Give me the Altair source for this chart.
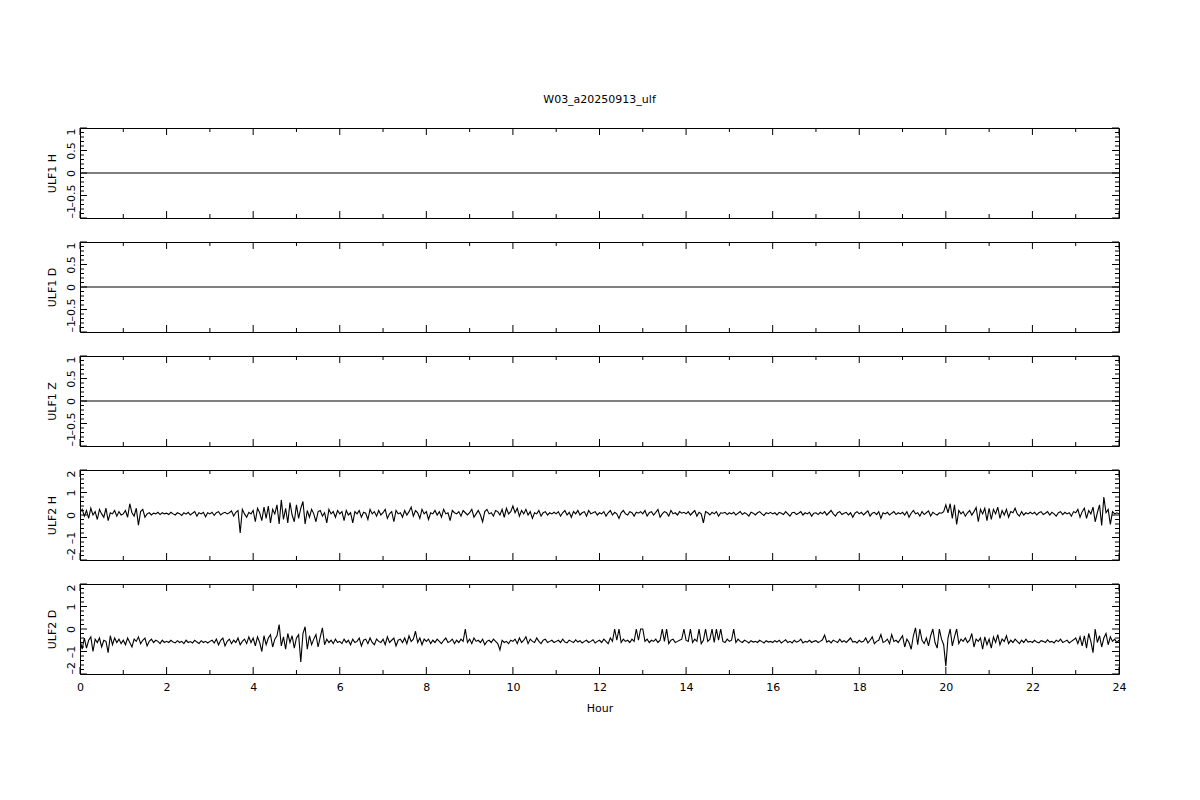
import altair as alt
import pandas as pd

TITLE = "W03_a20250913_ulf"
X_TITLE = "Hour"
PANEL_LABELS = ["ULF1 H", "ULF1 D", "ULF1 Z", "ULF2 H", "ULF2 D"]

# ULF1 channels: flat zero traces over the whole day
ulf1_hours = [0, 24]
ulf1_h = [0.0, 0.0]
ulf1_d = [0.0, 0.0]
ulf1_z = [0.0, 0.0]

# ULF2 H, 20 samples per hour, plus final sample
ulf2_h = [
    0.10, 0.25, -0.05, 0.20, -0.15, 0.30, 0.00, 0.15, -0.20, 0.25, 0.05, -0.10, 0.30, -0.25, 0.10, 0.05, 0.20, -0.05, 0.15, 0.00,
    0.05, 0.20, -0.10, 0.50, 0.10, -0.05, 0.30, -0.45, 0.15, 0.25, -0.10, 0.05, 0.10, 0.00, 0.08, 0.05, 0.12, 0.02, 0.10, 0.05,
    0.08, 0.02, 0.12, 0.05, 0.00, 0.10, 0.06, -0.02, 0.10, 0.04, 0.12, 0.00, 0.08, 0.15, -0.05, 0.10, 0.05, 0.12, -0.08, 0.10,
    0.05, 0.12, -0.02, 0.10, 0.15, 0.00, 0.08, 0.12, 0.05, 0.10, 0.18, -0.05, 0.12, 0.20, -0.80, 0.25, 0.05, -0.10, 0.12, 0.05,
    0.20, -0.30, 0.30, 0.10, -0.25, 0.35, -0.15, 0.40, -0.35, 0.25, 0.05, 0.45, -0.40, 0.67, -0.20, 0.30, -0.35, 0.55, 0.00, -0.30,
    0.45, -0.15, 0.30, 0.60, -0.40, 0.20, -0.10, 0.25, 0.05, -0.30, 0.15, 0.20, -0.05, 0.10, -0.35, 0.25, 0.05, 0.15, -0.10, 0.20,
    0.05, 0.15, -0.25, 0.20, 0.00, 0.10, -0.35, 0.15, 0.05, 0.20, -0.10, 0.12, 0.08, -0.20, 0.25, 0.05, 0.15, -0.05, 0.20, 0.00,
    0.10, 0.25, -0.15, 0.05, 0.15, -0.30, 0.20, 0.05, 0.10, -0.10, 0.20, 0.00, 0.15, 0.35, -0.05, 0.20, 0.10, -0.15, 0.25, 0.05,
    0.15, -0.20, 0.10, 0.05, 0.20, 0.00, 0.15, -0.10, 0.25, 0.05, 0.10, -0.25, 0.20, 0.10, 0.05, 0.15, -0.05, 0.20, 0.10, 0.00,
    0.10, 0.25, -0.10, 0.05, 0.20, 0.00, -0.30, 0.15, 0.25, 0.05, 0.10, -0.05, 0.20, 0.15, 0.00, 0.25, -0.10, 0.30, 0.05, 0.15,
    0.40, 0.10, 0.30, -0.05, 0.20, 0.05, 0.25, 0.00, 0.15, -0.15, 0.10, 0.05, 0.20, -0.05, 0.10, 0.15, 0.00, 0.10, 0.05, 0.12,
    0.05, 0.15, -0.05, 0.10, 0.20, 0.00, 0.12, -0.10, 0.15, 0.05, 0.20, 0.00, 0.10, 0.15, -0.05, 0.20, 0.05, 0.10, 0.15, 0.00,
    0.10, 0.05, 0.15, -0.05, 0.10, 0.20, 0.00, 0.12, 0.05, -0.15, 0.10, 0.20, 0.05, 0.00, 0.15, 0.10, -0.05, 0.12, 0.08, 0.15,
    0.05, 0.20, -0.05, 0.10, 0.15, 0.00, 0.12, 0.25, -0.10, 0.05, 0.15, 0.10, -0.05, 0.20, 0.05, 0.10, 0.00, 0.15, 0.08, 0.12,
    0.05, 0.15, 0.00, 0.10, 0.20, -0.05, 0.12, 0.05, -0.35, 0.15, 0.10, 0.00, 0.12, 0.05, 0.15, -0.05, 0.10, 0.08, 0.12, 0.02,
    0.10, 0.05, 0.12, 0.00, 0.08, 0.15, 0.02, 0.10, 0.05, -0.05, 0.12, 0.08, 0.00, 0.10, 0.15, 0.05, -0.02, 0.10, 0.06, 0.12,
    0.05, 0.10, 0.00, 0.12, 0.08, 0.02, 0.15, 0.05, -0.05, 0.10, 0.12, 0.02, 0.08, 0.15, 0.00, 0.10, 0.05, 0.12, -0.05, 0.08,
    0.10, 0.02, 0.12, 0.05, 0.15, 0.00, 0.10, 0.20, 0.05, -0.05, 0.10, 0.15, 0.02, 0.08, 0.12, 0.00, 0.10, -0.10, 0.08, 0.15,
    0.05, 0.12, 0.00, 0.10, 0.18, -0.05, 0.08, 0.12, 0.02, 0.15, -0.15, 0.10, 0.05, 0.12, 0.00, 0.08, 0.15, 0.02, 0.10, 0.05,
    0.12, 0.00, 0.15, -0.10, 0.08, 0.20, 0.05, 0.10, -0.05, 0.15, 0.02, 0.10, 0.18, -0.05, 0.12, 0.05, 0.00, 0.10, 0.08, 0.15,
    0.45, 0.10, 0.50, -0.15, 0.45, -0.42, 0.20, 0.05, 0.15, -0.05, 0.10, 0.20, 0.00, 0.15, 0.33, -0.30, 0.25, 0.05, 0.30, -0.25,
    0.30, -0.20, 0.25, 0.05, 0.35, -0.15, 0.20, 0.00, 0.25, -0.10, 0.15, 0.10, 0.30, 0.05, -0.05, 0.15, 0.00, 0.10, 0.05, 0.12,
    0.05, 0.12, 0.00, 0.10, 0.15, 0.02, 0.08, 0.15, 0.00, 0.12, 0.05, -0.05, 0.10, 0.15, 0.02, 0.12, 0.05, 0.10, -0.05, 0.15,
    0.10, 0.25, -0.10, 0.15, 0.30, -0.15, 0.20, 0.05, 0.35, -0.30, 0.10, 0.45, -0.46, 0.80, 0.10, 0.25, -0.42, 0.15, 0.05, 0.10,
    0.05,
]

# ULF2 D, 20 samples per hour, plus final sample
ulf2_d = [
    -0.45, -0.90, -0.40, -0.85, -0.50, -0.35, -1.00, -0.45, -0.60, -0.40, -0.80, -0.50, -0.55, -1.05, -0.30, -0.70, -0.40, -0.60, -0.45, -0.65,
    -0.50, -0.70, -0.40, -0.60, -0.80, -0.45, -0.55, -0.35, -0.65, -0.50, -0.40, -0.75, -0.55, -0.45, -0.60, -0.50, -0.55, -0.65, -0.50, -0.60,
    -0.55, -0.60, -0.50, -0.58, -0.62, -0.52, -0.60, -0.55, -0.65, -0.50, -0.60, -0.56, -0.62, -0.50, -0.58, -0.64, -0.52, -0.60, -0.55, -0.62,
    -0.55, -0.50, -0.62, -0.45, -0.70, -0.50, -0.40, -0.75, -0.55, -0.45, -0.65, -0.50, -0.60, -0.40, -0.70, -0.55, -0.45, -0.65, -0.35, -0.60,
    -0.40, -0.75, -0.35, -0.60, -1.00, -0.30, -0.70, -0.40, -0.25, -0.80, -0.45, -0.30, 0.20, -0.75, -0.35, -0.90, -0.20, -0.60, -0.30, -0.85,
    -0.40, -0.25, -1.47, -0.20, 0.10, -0.90, -0.30, -0.70, -0.45, -0.25, -0.80, -0.35, 0.05, -0.70, -0.45, -0.60, -0.50, -0.65, -0.45, -0.60,
    -0.55, -0.65, -0.45, -0.60, -0.50, -0.70, -0.45, -0.60, -0.55, -0.40, -0.75, -0.50, -0.45, -0.65, -0.40, -0.60, -0.70, -0.45, -0.55, -0.60,
    -0.45, -0.70, -0.35, -0.60, -0.50, -0.40, -0.75, -0.50, -0.45, -0.60, -0.40, -0.65, -0.30, -0.55, -0.45, -0.10, -0.60, -0.40, -0.70, -0.45,
    -0.55, -0.45, -0.65, -0.50, -0.60, -0.45, -0.55, -0.65, -0.50, -0.40, -0.60, -0.55, -0.45, -0.65, -0.50, -0.60, -0.45, -0.55, 0.00, -0.60,
    -0.45, -0.65, -0.40, -0.55, -0.50, -0.60, -0.45, -0.70, -0.55, -0.50, -0.60, -0.45, -0.55, -0.65, -0.93, -0.50, -0.60, -0.55, -0.65, -0.50,
    -0.55, -0.45, -0.65, -0.40, -0.60, -0.50, -0.35, -0.65, -0.45, -0.55, -0.60, -0.40, -0.55, -0.65, -0.50, -0.45, -0.60, -0.55, -0.50, -0.60,
    -0.55, -0.50, -0.60, -0.45, -0.58, -0.62, -0.50, -0.55, -0.60, -0.48, -0.58, -0.52, -0.62, -0.55, -0.50, -0.60, -0.55, -0.48, -0.62, -0.55,
    -0.50, -0.60, -0.45, -0.55, -0.65, -0.40, -0.55, 0.00, -0.50, 0.00, -0.60, -0.45, -0.55, -0.50, -0.60, -0.45, -0.55, 0.00, -0.50, 0.00,
    0.00, -0.55, -0.45, -0.60, -0.50, -0.55, -0.45, -0.60, -0.50, 0.00, -0.55, 0.00, -0.65, -0.50, -0.45, -0.60, -0.55, -0.50, -0.45, 0.00,
    -0.50, -0.55, 0.00, -0.60, -0.45, -0.55, 0.00, -0.65, -0.50, 0.00, -0.55, -0.45, 0.00, -0.60, 0.00, -0.50, 0.00, -0.55, -0.60, -0.45,
    -0.55, -0.50, 0.00, -0.60, -0.45, -0.55, -0.60, -0.50, -0.55, -0.62, -0.52, -0.58, -0.55, -0.60, -0.50, -0.56, -0.62, -0.52, -0.58, -0.55,
    -0.60, -0.52, -0.58, -0.50, -0.62, -0.55, -0.48, -0.60, -0.55, -0.62, -0.50, -0.58, -0.55, -0.45, -0.62, -0.55, -0.58, -0.50, -0.60, -0.55,
    -0.52, -0.60, -0.55, -0.48, -0.27, -0.58, -0.52, -0.62, -0.50, -0.55, -0.60, -0.45, -0.58, -0.52, -0.60, -0.50, -0.40, -0.58, -0.55, -0.62,
    -0.50, -0.58, -0.55, -0.40, -0.62, -0.50, -0.35, -0.65, -0.55, -0.50, -0.25, -0.60, -0.55, -0.45, -0.65, -0.25, -0.55, -0.50, -0.60, -0.45,
    -0.30, -0.80, -0.45, -0.60, -0.90, -0.30, 0.05, -0.70, 0.00, -0.50, -0.65, -0.40, -0.75, -0.30, 0.00, -0.60, -0.85, 0.00, -0.45, -0.70,
    -1.65, -0.40, 0.00, -0.75, -0.35, 0.00, -0.65, -0.45, -0.55, -0.40, -0.60, -0.50, -0.20, -0.80, -0.45, -0.55, -0.40, -0.90, -0.35, -0.70,
    -0.45, -0.85, -0.35, -0.60, -0.25, -0.70, -0.45, -0.55, -0.30, -0.65, -0.50, -0.60, -0.45, -0.55, -0.65, -0.50, -0.60, -0.45, -0.58, -0.55,
    -0.60, -0.50, -0.58, -0.62, -0.52, -0.55, -0.60, -0.48, -0.58, -0.55, -0.62, -0.50, -0.56, -0.45, -0.60, -0.55, -0.50, -0.62, -0.55, -0.48,
    -0.40, -0.65, -0.35, -0.75, -0.30, -0.85, -0.20, -0.55, -1.05, 0.00, -0.60, -0.30, -0.80, -0.40, -0.20, -0.70, -0.35, -0.55, -0.45, -0.60,
    -0.50,
]

# tick positions
x_major = [0, 2, 4, 6, 8, 10, 12, 14, 16, 18, 20, 22, 24]
x_minor = [1, 3, 5, 7, 9, 11, 13, 15, 17, 19, 21, 23]
y1_major = [-1, -0.5, 0, 0.5, 1]
y1_minor = [-0.9, -0.8, -0.7, -0.6, -0.4, -0.3, -0.2, -0.1, 0.1, 0.2, 0.3, 0.4, 0.6, 0.7, 0.8, 0.9]
y2_major = [-2, -1, 0, 1, 2]
y2_minor = [-1.8, -1.6, -1.4, -1.2, -0.8, -0.6, -0.4, -0.2, 0.2, 0.4, 0.6, 0.8, 1.2, 1.4, 1.6, 1.8]

W, H = 1039, 90
MAJ, MIN = 7, 4
FONT = "DejaVu Sans"


def day_hours(values):
    n = len(values)
    return [24.0 * i / (n - 1) for i in range(n)]


def panel(hours, values, label, ymaj, ymin, domain, bottom=False, title=None):
    xscale = alt.Scale(domain=[0, 24], nice=False, zero=False)
    yscale = alt.Scale(domain=domain, nice=False, zero=False)
    if bottom:
        xaxis = alt.Axis(values=x_major, format="d", ticks=False, domain=False, grid=False,
                         labelFontSize=11, labelPadding=7, labelFlush=False,
                         title=X_TITLE, titlePadding=10)
    else:
        xaxis = None
    lo, hi = domain
    label_align = {
        "condition": [
            {"test": f"datum.value <= {lo}", "value": "left"},
            {"test": f"datum.value >= {hi}", "value": "right"},
        ],
        "value": "center",
    }
    yaxis = alt.Axis(values=ymaj, format="~g", labelAngle=270, ticks=False, domain=False,
                     grid=False, labelFontSize=11, labelPadding=4, labelFlush=False,
                     labelExpr="replace(datum.label, '\u2212', '\u2013')",
                     labelAlign=label_align, labelOverlap=False, title=label, titlePadding=8)

    line = alt.Chart(pd.DataFrame({"hour": hours, "value": values})).mark_line(
        color="black", strokeWidth=1.1, clip=True
    ).encode(
        x=alt.X("hour:Q", scale=xscale, axis=xaxis),
        y=alt.Y("value:Q", scale=yscale, axis=yaxis),
    )

    layers = [line]
    for pos, ln in ((x_major, MAJ), (x_minor, MIN)):
        base = alt.Chart(pd.DataFrame({"hour": pos})).mark_rule(color="black", strokeWidth=1)
        xenc = alt.X("hour:Q", scale=xscale, axis=xaxis)
        layers.append(base.encode(x=xenc, y=alt.value(H), y2=alt.value(H - ln)))
        layers.append(base.encode(x=xenc, y=alt.value(0), y2=alt.value(ln)))
    for pos, ln in ((ymaj, MAJ), (ymin, MIN)):
        base = alt.Chart(pd.DataFrame({"value": pos})).mark_rule(color="black", strokeWidth=1)
        yenc = alt.Y("value:Q", scale=yscale, axis=yaxis)
        layers.append(base.encode(y=yenc, x=alt.value(0), x2=alt.value(ln)))
        layers.append(base.encode(y=yenc, x=alt.value(W), x2=alt.value(W - ln)))

    ch = alt.layer(*layers).properties(width=W, height=H)
    if title:
        ch = ch.properties(title=alt.TitleParams(title, anchor="middle", frame="group",
                                                 offset=23, fontSize=11, fontWeight="normal",
                                                 color="black", font=FONT))
    return ch


panels = [
    panel(ulf1_hours, ulf1_h, PANEL_LABELS[0], y1_major, y1_minor, [-1, 1], title=TITLE),
    panel(ulf1_hours, ulf1_d, PANEL_LABELS[1], y1_major, y1_minor, [-1, 1]),
    panel(ulf1_hours, ulf1_z, PANEL_LABELS[2], y1_major, y1_minor, [-1, 1]),
    panel(day_hours(ulf2_h), ulf2_h, PANEL_LABELS[3], y2_major, y2_minor, [-2, 2]),
    panel(day_hours(ulf2_d), ulf2_d, PANEL_LABELS[4], y2_major, y2_minor, [-2, 2], bottom=True),
]

chart = alt.vconcat(*panels, spacing=22).properties(
    padding={"left": 37, "top": 85, "right": 5, "bottom": 5}
).configure(font=FONT).configure_view(
    stroke="black", strokeWidth=1
).configure_axis(
    labelColor="black", titleColor="black", labelFont=FONT, titleFont=FONT,
    titleFontSize=11, titleFontWeight="normal", labelFontSize=11
).configure_concat(spacing=22)

chart.save("out.html", embed_options={"renderer": "svg", "actions": False})
